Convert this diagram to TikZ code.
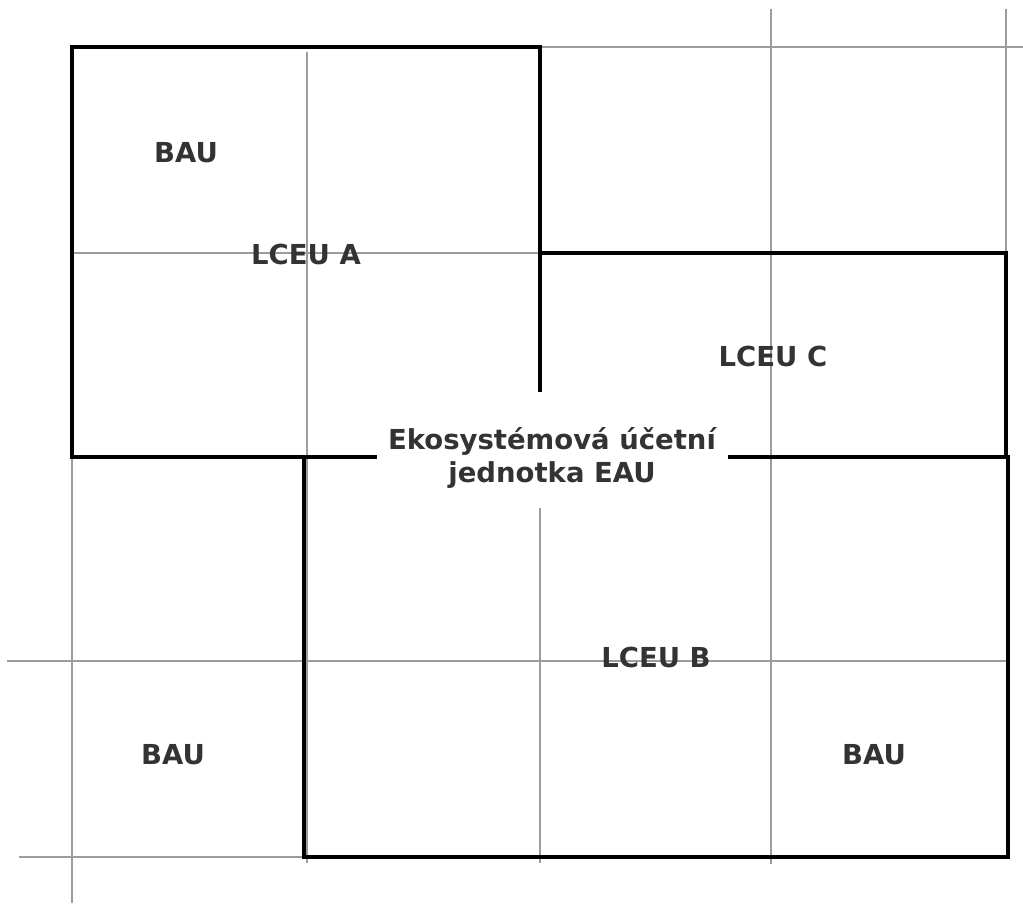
\documentclass[tikz,border=0pt]{standalone}
\usepackage{fontspec}
\setmainfont{DejaVu Sans}
\definecolor{gridgray}{HTML}{9C9C9C}
\definecolor{labelgray}{HTML}{333333}
\begin{document}
\begin{tikzpicture}[x=1pt,y=-1pt,
  grid/.style={draw=gridgray, line width=2pt},
  unit/.style={draw=black, line width=4.5pt, line join=miter},
  lbl/.style={font=\bfseries\fontsize{27.5}{33}\selectfont, text=labelgray, inner sep=0pt}]
  \useasboundingbox (0,0) rectangle (1023,903);

  % background grid of basic accounting units
  \draw[grid] (72,47) -- (72,903);
  \draw[grid] (307,52) -- (307,863);
  \draw[grid] (540,508) -- (540,863);
  \draw[grid] (771,9) -- (771,864);
  \draw[grid] (1006,9) -- (1006,457);
  \draw[grid] (540,47) -- (1023,47);
  \draw[grid] (72,253) -- (1006,253);
  \draw[grid] (7,661) -- (1006,661);
  \draw[grid] (19,857) -- (304,857);

  % land cover ecosystem units
  \draw[unit] (540,392) -- (540,47) -- (72,47) -- (72,457) -- (304,457);
  \draw[unit] (540,253) -- (1006,253) -- (1006,457);
  \draw[unit] (377,457) -- (304,457) -- (304,857) -- (1008,857) -- (1008,457) -- (728,457);

  % labels
  \node[lbl] (bauA) at (186,153) {BAU};
  \node[lbl] (lceuA) at (306,254) {LCEU A};
  \node[lbl] (lceuC) at (773,356) {LCEU C};
  \node[lbl] (lceuB) at (656,657) {LCEU B};
  \node[lbl] (bauB) at (173,755) {BAU};
  \node[lbl] (bauC) at (874,755) {BAU};
  \node[lbl, align=center] (eau) at (552,458) {Ekosystémová účetní\\jednotka EAU};
\end{tikzpicture}
\end{document}
